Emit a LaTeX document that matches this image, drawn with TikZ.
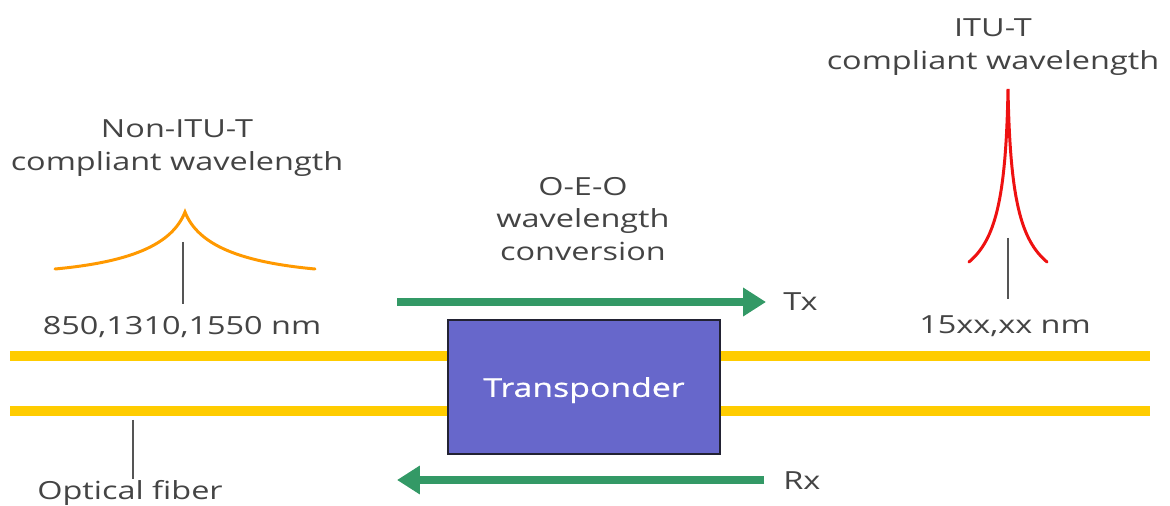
\documentclass[tikz,border=0pt]{standalone}
\usepackage{fontspec}
\setmainfont{Open Sans}[FakeStretch=1.3]
\newfontfamily\boxfont{Open Sans}[FakeStretch=1.3, FakeBold=0.8]
\usetikzlibrary{arrows.meta}
\definecolor{fibery}{HTML}{FFCC00}
\definecolor{boxfill}{HTML}{6767CB}
\definecolor{boxline}{HTML}{222233}
\definecolor{signal}{HTML}{339966}
\definecolor{peakorange}{HTML}{FF9900}
\definecolor{peakred}{HTML}{EE1111}
\definecolor{tickgray}{HTML}{555555}
\definecolor{textgray}{HTML}{444444}
\begin{document}
\begin{tikzpicture}[
    x=0.02cm, y=-0.02cm,
    lbl/.style={align=center, text=textgray, inner sep=0pt, font=\fontsize{14.2}{18.7}\selectfont},
    box/.style={rectangle, draw=boxline, fill=boxfill, line width=1pt, minimum width=5.44cm, minimum height=2.68cm, text depth=0pt, text=white, font=\boxfont\fontsize{14.8}{18}\selectfont},
    fiber/.style={fibery, line width=6.2pt},
    flow/.style={-{Triangle[length=13pt, width=15.5pt]}, signal, line width=4.5pt},
    tick/.style={tickgray, line width=1.6pt},
    peak/.style={line width=1.7pt, line cap=round}
]
    \useasboundingbox (0,0) rectangle (1170,506);

    % Fibers
    \coordinate (fiberAin) at (10,356);
    \coordinate (fiberAout) at (1150,356);
    \coordinate (fiberBin) at (10,411);
    \coordinate (fiberBout) at (1150,411);
    \draw[fiber] (fiberAin) -- (fiberAout);
    \draw[fiber] (fiberBin) -- (fiberBout);

    % Components
    \node[box] (transponder) at (584,387) {Transponder};
    \node[lbl, anchor=west] (tx) at (783,302) {Tx};
    \node[lbl, anchor=west] (rx) at (783,481) {Rx};
    \node[lbl] (oeo) at (583,219) {O-E-O\\wavelength\\conversion};
    \node[lbl] (nonitu) at (177,148) {Non-ITU-T\\compliant wavelength};
    \node[lbl] (itu) at (993,47) {ITU-T\\compliant wavelength};
    \node[lbl] (oldnm) at (182,327) {850,1310,1550 nm};
    \node[lbl] (newnm) at (1005,326) {15xx,xx nm};
    \node[lbl] (fiberlbl) at (130,493) {Optical fiber};

    % Flow arrows
    \coordinate (txin) at (397,302);
    \coordinate (txout) at (766,302);
    \coordinate (rxin) at (764,480);
    \coordinate (rxout) at (397,480);
    \draw[flow] (txin) -- (txout);
    \draw[flow] (rxin) -- (rxout);

    % Spectra
    \draw[peak, peakorange] (55,269) .. controls (130,262) and (172,245) .. (185,212)
        .. controls (198,245) and (240,262) .. (315,269);
    \draw[peak, peakred] (969,262) .. controls (995,240) and (1006,200) .. (1008,89)
        .. controls (1010,200) and (1021,240) .. (1047,262);

    % Pointers
    \coordinate (oldtick) at (183,242);
    \coordinate (newtick) at (1008,238);
    \coordinate (fibertick) at (133,420);
    \draw[tick] (oldtick) -- (183,304);
    \draw[tick] (newtick) -- (1008,299);
    \draw[tick] (fibertick) -- (133,479);
\end{tikzpicture}
\end{document}
